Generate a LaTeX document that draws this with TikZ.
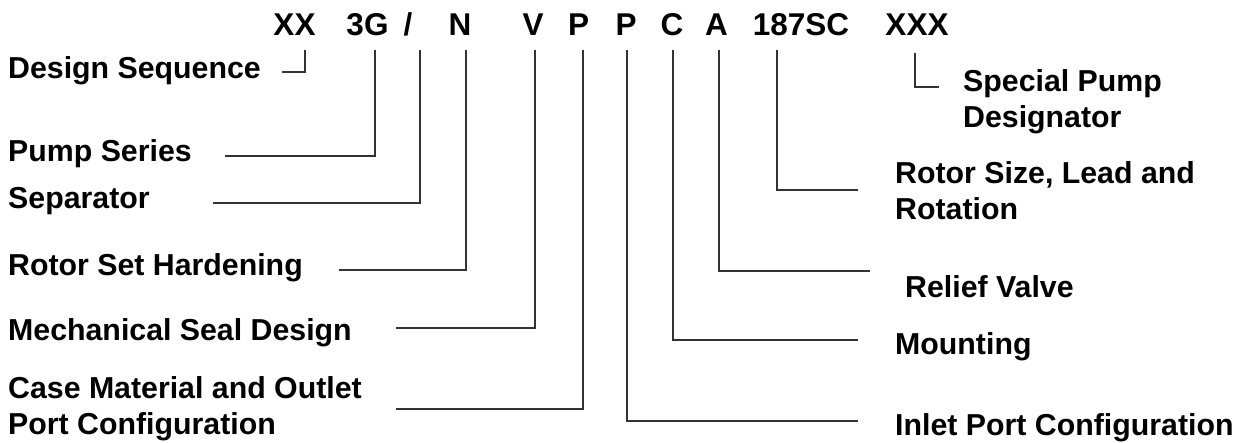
\documentclass[tikz,border=0pt]{standalone}
\usepackage{fontspec}
\setmainfont{Liberation Sans}
\begin{document}
\begin{tikzpicture}[x=1pt,y=-1pt,
  lbl/.style={anchor=base west, inner sep=0pt, font=\fontsize{30.3}{35.5}\selectfont\bfseries, align=left},
  tok/.style={anchor=base, inner sep=0pt, font=\fontsize{31.5}{36}\selectfont\bfseries},
  conn/.style={draw=black!80, line width=1.2pt}]
\useasboundingbox[fill=white] (0,0) rectangle (1255,442);
% code tokens
\node[tok] (t1) at (294.5,35) {XX};
\node[tok] (t2) at (367.5,35) {3G};
\node[tok] (t3) at (408,35) {/};
\node[tok] (t4) at (460,35) {N};
\node[tok] (t5) at (533,35) {V};
\node[tok] (t6) at (578.5,35) {P};
\node[tok] (t7) at (626,35) {P};
\node[tok] (t8) at (672,35) {C};
\node[tok] (t9) at (716.5,35) {A};
\node[tok] (t10) at (801,35) {187SC};
\node[tok] (t11) at (917,35) {XXX};
% labels (base anchor of multi-line labels = last line)
\node[lbl] (l1) at (8,78) {Design Sequence};
\node[lbl] (l2) at (8,161) {Pump Series};
\node[lbl] (l3) at (8,208) {Separator};
\node[lbl] (l4) at (8,275) {Rotor Set Hardening};
\node[lbl] (l5) at (8,340) {Mechanical Seal Design};
\node[lbl] (l6) at (8,434) {Case Material and Outlet\\Port Configuration};
\node[lbl] (l7) at (895,435) {Inlet Port Configuration};
\node[lbl] (l8) at (895,354) {Mounting};
\node[lbl] (l9) at (905,297) {Relief Valve};
\node[lbl] (l10) at (895,219) {Rotor Size, Lead and\\Rotation};
\node[lbl] (l11) at (963,127) {Special Pump\\Designator};
% connector end points
\coordinate (a1) at (305,50);  \coordinate (b1) at (282,72);
\coordinate (a2) at (375,50);  \coordinate (b2) at (225,156);
\coordinate (a3) at (420,50);  \coordinate (b3) at (213,203);
\coordinate (a4) at (466,50);  \coordinate (b4) at (339,270);
\coordinate (a5) at (535,50);  \coordinate (b5) at (396,328);
\coordinate (a6) at (583,50);  \coordinate (b6) at (396,409);
\coordinate (a7) at (627,50);  \coordinate (b7) at (858,421);
\coordinate (a8) at (673,50);  \coordinate (b8) at (858,340);
\coordinate (a9) at (719,50);  \coordinate (b9) at (870,271);
\coordinate (a10) at (777,50); \coordinate (b10) at (858,190);
\coordinate (a11) at (915,53); \coordinate (b11) at (939,87);
\foreach \i in {1,...,11} {\draw[conn] (a\i) |- (b\i);}
\end{tikzpicture}
\end{document}
